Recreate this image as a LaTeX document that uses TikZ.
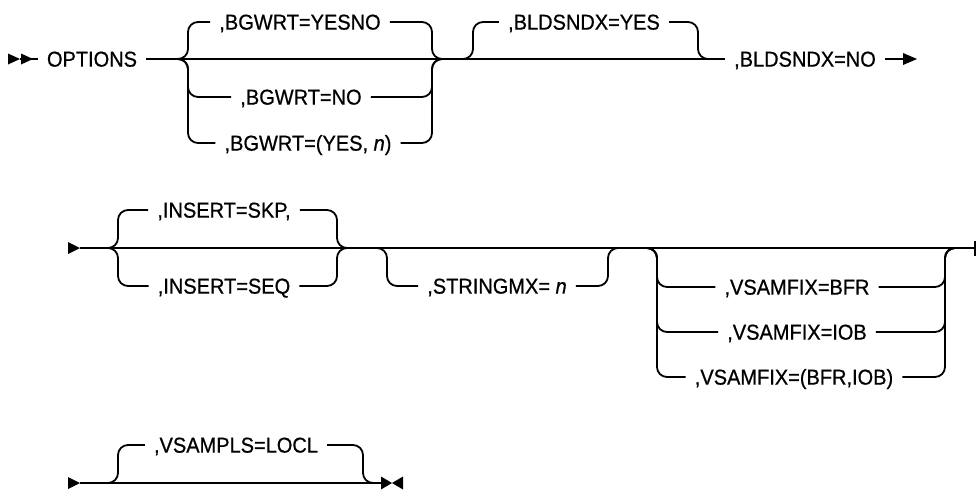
\documentclass[tikz,border=0pt]{standalone}
\usepackage{fontspec}
\setmainfont{Liberation Sans}
\newfontfamily\rrfont[FakeBold=0.7,FakeStretch=0.93]{Liberation Sans}
\begin{document}
\begin{tikzpicture}[x=1pt,y=-1pt,
  ln/.style={line width=1.8pt},
  rr/.style={line width=1.8pt, rounded corners=10pt},
  lbl/.style={font=\rrfont\fontsize{21.5}{25}\selectfont, inner xsep=9pt, inner ysep=0pt,
              text height=15.2pt, text depth=0pt, anchor=center},
  tip/.style={fill=black}]
\useasboundingbox (0,0) rectangle (976,491);

% ---------------- row 1 ----------------
\node[lbl] (opt) at (92,59) {OPTIONS};
\node[lbl] (bgA) at (300,22) {,BGWRT=YESNO};
\node[lbl] (bgB) at (301,97) {,BGWRT=NO};
\node[lbl] (bgC) at (308,143) {,BGWRT=(YES, \textit{n})};
\node[lbl] (bly) at (584,22) {,BLDSNDX=YES};
\node[lbl] (bln) at (805,59) {,BLDSNDX=NO};

\fill[tip] (8,53.5) -- (20,59) -- (8,64.5) -- cycle;
\fill[tip] (21,53.5) -- (33,59) -- (21,64.5) -- cycle;
\draw[ln] (20,59) -- (opt.west);
\draw[ln] (opt.east) -- (bln.west);
\draw[ln] (bln.east) -- (905,59);
\fill[tip] (903,53) -- (917,59) -- (903,65) -- cycle;

\foreach \n in {bgA,bgB,bgC}{
  \draw[rr] (176,59) -- (188,59) |- (\n.west);
  \draw[rr] (\n.east) -| (432,59) -- (444,59);
}
\draw[rr] (461,59) -- (473,59) |- (bly.west);
\draw[rr] (bly.east) -| (698,59) -- (710,59);

% ---------------- row 2 ----------------
\node[lbl] (inA) at (224,210) {,INSERT=SKP,};
\node[lbl] (inB) at (224,286) {,INSERT=SEQ};
\node[lbl] (stm) at (497,286) {,STRINGMX= \textit{n}};
\node[lbl] (vfA) at (797,287) {,VSAMFIX=BFR};
\node[lbl] (vfB) at (797,332) {,VSAMFIX=IOB};
\node[lbl] (vfC) at (794,377) {,VSAMFIX=(BFR,IOB)};

\fill[tip] (68,242) -- (80,248) -- (68,254) -- cycle;
\draw[ln] (80,248) -- (975,248);
\draw[ln] (975,241) -- (975,256);

\foreach \n in {inA,inB}{
  \draw[rr] (106,248) -- (118,248) |- (\n.west);
  \draw[rr] (\n.east) -| (337,248) -- (349,248);
}
\draw[rr] (375,248) -- (387,248) |- (stm.west);
\draw[rr] (stm.east) -| (608,248) -- (620,248);
\foreach \n in {vfA,vfB,vfC}{
  \draw[rr] (645,248) -- (657,248) |- (\n.west);
  \draw[rr] (\n.east) -| (945,248) -- (957,248);
}

% ---------------- row 3 ----------------
\node[lbl] (vpl) at (236,445) {,VSAMPLS=LOCL};
\fill[tip] (68,477) -- (80,483) -- (68,489) -- cycle;
\draw[ln] (80,483) -- (382,483);
\draw[rr] (106,483) -- (118,483) |- (vpl.west);
\draw[rr] (vpl.east) -| (363,483) -- (375,483);
\fill[tip] (381,476.5) -- (392,483) -- (381,489.5) -- cycle;
\fill[tip] (403,476.5) -- (392,483) -- (403,489.5) -- cycle;
\end{tikzpicture}
\end{document}
